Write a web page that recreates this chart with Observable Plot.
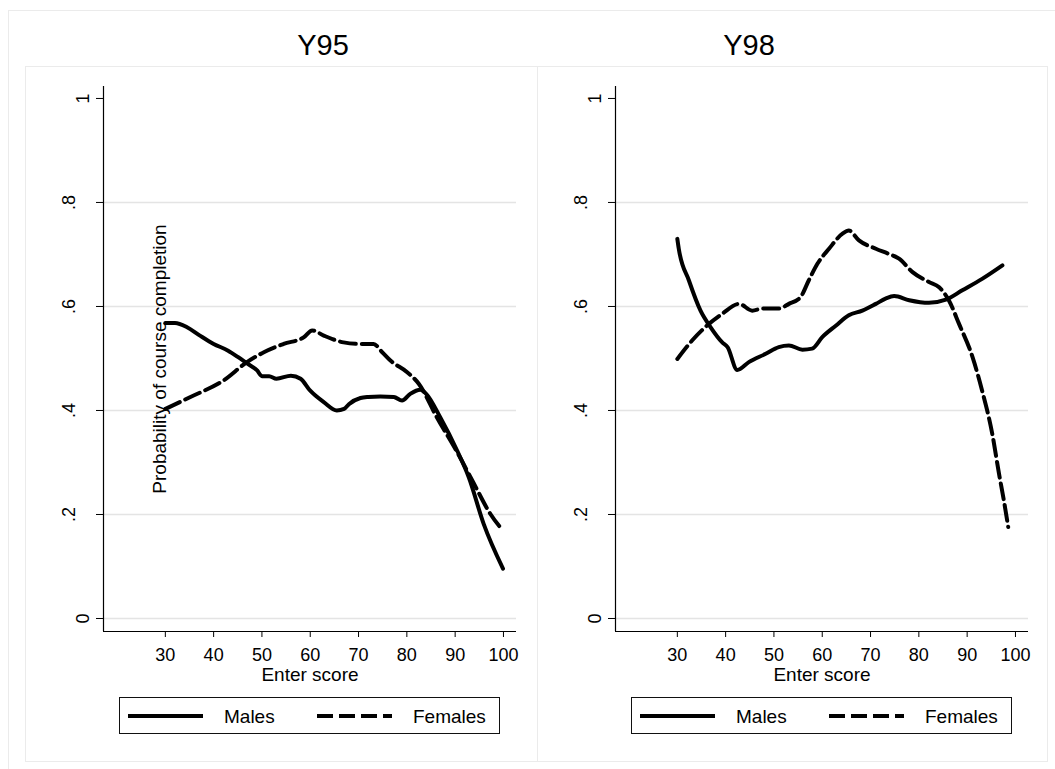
<!DOCTYPE html>
<html>
<head>
<meta charset="utf-8">
<script src="https://cdn.jsdelivr.net/npm/d3@7"></script>
<script src="https://cdn.jsdelivr.net/npm/@observablehq/plot@0.6"></script>
<style>
  html, body { margin: 0; padding: 0; background: #fff; }
  #root { position: relative; width: 1055px; height: 769px; overflow: hidden;
          font-family: "Liberation Sans", Arial, Helvetica, sans-serif; color: #000; }
  .abs { position: absolute; }
  .frame { position: absolute; border: 1px solid #ebebeb; box-sizing: border-box; }
  .title { position: absolute; width: 200px; text-align: center; font-size: 29px; line-height: 29px; }
  .legend { position: absolute; width: 381px; height: 37px; box-sizing: border-box; border: 1px solid #111; }
</style>
</head>
<body>
<div id="root">
  <div class="frame" style="left:8px;top:10px;width:1100px;height:800px;"></div>
  <div class="frame" style="left:25px;top:66px;width:513px;height:696px;"></div>
  <div class="frame" style="left:537px;top:66px;width:511px;height:696px;"></div>
  <div class="title" style="left:223px;top:31px;">Y95</div>
  <div class="title" style="left:649px;top:31px;">Y98</div>
  <div id="p1" class="abs" style="left:25px;top:66px;"></div>
  <div id="p2" class="abs" style="left:537px;top:66px;"></div>
  <div id="lg1" class="legend" style="left:119px;top:697px;"></div>
  <div id="lg2" class="legend" style="left:631px;top:697px;"></div>
</div>
<script>
// ---- Data ----
const panelTitles = ["Y95", "Y98"];
const seriesNames = ["Males", "Females"];
const xTicks = [30, 40, 50, 60, 70, 80, 90, 100];
const yTicks = [0, 0.2, 0.4, 0.6, 0.8, 1];

const y95MalesScore = [30, 32, 34.5, 37, 40, 43, 45, 47, 49, 50, 51.5, 53, 56, 58, 60, 62.8, 65.5, 67, 68, 70.4, 72, 74.5, 77.3, 79, 80.7, 82.8, 84, 86.9, 90.4, 92.8, 95.9, 99.9];
const y95MalesProb  = [0.568, 0.568, 0.560, 0.545, 0.528, 0.515, 0.503, 0.490, 0.477, 0.466, 0.466, 0.461, 0.467, 0.461, 0.438, 0.416, 0.400, 0.403, 0.412, 0.424, 0.426, 0.427, 0.426, 0.419, 0.432, 0.440, 0.432, 0.387, 0.323, 0.272, 0.182, 0.096];

const y95FemalesScore = [30, 35.2, 42.1, 46.9, 50.4, 54.5, 58.7, 60.4, 62.8, 66.9, 70.4, 73.1, 74.9, 76.6, 80, 82.5, 86.2, 90.4, 93.9, 97.3, 99.9];
const y95FemalesProb  = [0.403, 0.426, 0.458, 0.493, 0.512, 0.528, 0.541, 0.554, 0.544, 0.531, 0.528, 0.528, 0.512, 0.496, 0.474, 0.451, 0.387, 0.320, 0.259, 0.201, 0.169];

const y98MalesScore = [30, 30.3, 32.4, 34.8, 36.9, 39.3, 40.4, 42.4, 44.8, 48.3, 51, 53.1, 55.9, 57.9, 60, 62.8, 65.5, 68.3, 71.1, 73.1, 74.9, 78, 82.1, 85.6, 89, 93.1, 97.3];
const y98MalesProb  = [0.730, 0.711, 0.650, 0.592, 0.560, 0.531, 0.522, 0.478, 0.493, 0.509, 0.522, 0.525, 0.517, 0.519, 0.541, 0.563, 0.583, 0.592, 0.605, 0.615, 0.620, 0.612, 0.607, 0.613, 0.631, 0.653, 0.679];

const y98FemalesScore = [30, 33.1, 36.6, 39.3, 42.8, 45.5, 47.6, 51, 53.1, 55.5, 57.2, 59, 61.4, 64.2, 65.5, 67.6, 71.1, 73.8, 75.9, 78.7, 82.1, 84.2, 86.2, 88.3, 91.1, 93.1, 95.2, 96.6, 97.6, 98.5];
const y98FemalesProb  = [0.499, 0.535, 0.567, 0.586, 0.605, 0.592, 0.596, 0.596, 0.605, 0.618, 0.650, 0.682, 0.711, 0.740, 0.746, 0.727, 0.711, 0.701, 0.692, 0.666, 0.647, 0.637, 0.612, 0.567, 0.503, 0.438, 0.355, 0.278, 0.227, 0.176];

const yTitle = "Probability of course completion";
const xTitle = "Enter score";

// ---- Drawing ----
const FONT = "'Liberation Sans', Arial, Helvetica, sans-serif";
const DASH = "16,6";
const LW = 4;
const toRows = (xs, ys) => xs.map((x, i) => ({x, y: ys[i]}));
const fmt = d => d === 0 ? "0" : d === 1 ? "1" : d.toFixed(1).replace(/^0/, "");

function panel(mx, my, fx, fy, showYTitle) {
  const xDom = [17.2, 102.7], yDom = [-0.025, 1.023];
  const marks = [
    Plot.gridY(yTicks.filter(d => d < 1), {stroke: "#e4e4e4", strokeOpacity: 1, strokeWidth: 1.5}),
    Plot.ruleX([xDom[0]], {stroke: "#000", strokeWidth: 1.2}),
    Plot.ruleY([yDom[0]], {stroke: "#000", strokeWidth: 1.2}),
    Plot.axisY(yTicks.filter(d => d === 0 || d === 1), {tickFormat: fmt, tickRotate: -90, tickSize: 7, tickPadding: 8, fontSize: 18, label: null}),
    Plot.axisY(yTicks.filter(d => d > 0 && d < 1), {tickFormat: fmt, tickRotate: -90, tickSize: 7, tickPadding: 22, fontSize: 18, label: null}),
    Plot.axisX(xTicks, {tickSize: 6, tickPadding: 11, fontSize: 18, label: null}),
    Plot.text([xTitle], {text: d => d, frameAnchor: "bottom", dy: 49, lineAnchor: "bottom", fontSize: 19}),
    Plot.line(toRows(fx, fy), {x: "x", y: "y", stroke: "#000", strokeWidth: LW, strokeDasharray: DASH, curve: "monotone-x"}),
    Plot.line(toRows(mx, my), {x: "x", y: "y", stroke: "#000", strokeWidth: LW, curve: "monotone-x"})
  ];
  if (showYTitle) {
    marks.push(Plot.text([yTitle], {text: d => d, frameAnchor: "left", rotate: -90, dx: 62, lineAnchor: "bottom", textAnchor: "middle", fontSize: 19}));
  }
  return Plot.plot({
    width: 512, height: 695,
    marginLeft: 78, marginRight: 21, marginTop: 20, marginBottom: 130,
    style: {background: "transparent", fontFamily: FONT, fontSize: "18px", color: "#000", overflow: "visible"},
    x: {domain: xDom},
    y: {domain: yDom},
    marks
  });
}

document.getElementById("p1").appendChild(panel(y95MalesScore, y95MalesProb, y95FemalesScore, y95FemalesProb, true));
document.getElementById("p2").appendChild(panel(y98MalesScore, y98MalesProb, y98FemalesScore, y98FemalesProb, false));

function legend(el) {
  const ns = "http://www.w3.org/2000/svg";
  const svg = document.createElementNS(ns, "svg");
  svg.setAttribute("width", 379); svg.setAttribute("height", 35);
  svg.style.display = "block";
  const items = [
    {x1: 8, x2: 83, tx: 104, dash: null, label: seriesNames[0]},
    {x1: 197, x2: 272, tx: 293, dash: DASH, label: seriesNames[1]}
  ];
  for (const it of items) {
    const l = document.createElementNS(ns, "line");
    l.setAttribute("x1", it.x1); l.setAttribute("x2", it.x2);
    l.setAttribute("y1", 18); l.setAttribute("y2", 18);
    l.setAttribute("stroke", "#000"); l.setAttribute("stroke-width", 4);
    if (it.dash) l.setAttribute("stroke-dasharray", it.dash);
    svg.appendChild(l);
    const t = document.createElementNS(ns, "text");
    t.setAttribute("x", it.tx); t.setAttribute("y", 25);
    t.setAttribute("font-family", FONT); t.setAttribute("font-size", 19);
    t.textContent = it.label;
    svg.appendChild(t);
  }
  el.appendChild(svg);
}
legend(document.getElementById("lg1"));
legend(document.getElementById("lg2"));
</script>
</body>
</html>
